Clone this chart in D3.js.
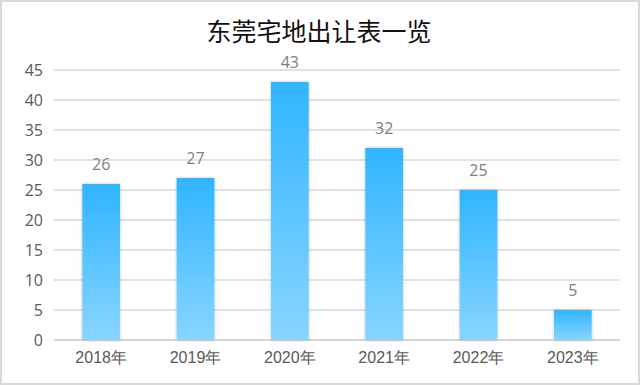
<!DOCTYPE html>
<html>
<head>
<meta charset="utf-8">
<script src="https://cdn.jsdelivr.net/npm/d3@7"></script>
<style>
  body { margin: 0; background: #fff; }
  svg { display: block; font-family: "Microsoft YaHei", "Noto Sans CJK SC", sans-serif; }
</style>
</head>
<body>
<div id="container"></div>
<script>
let w = 640;
let h = 385;

// data
let years = ["2018年", "2019年", "2020年", "2021年", "2022年", "2023年"];
let counts = [26, 27, 43, 32, 25, 5];
let yTicks = [0, 5, 10, 15, 20, 25, 30, 35, 40, 45];
let title = "东莞宅地出让表一览";

let plotLeft = 54, plotRight = 620, plotTop = 70, plotBottom = 340;

let viz = d3.select("#container")
  .append("svg")
    .attr("width", w)
    .attr("height", h);

// gradient for the bars
let defs = viz.append("defs");
let grad = defs.append("linearGradient")
  .attr("id", "barGrad")
  .attr("x1", 0).attr("y1", 0).attr("x2", 0).attr("y2", 1);
grad.append("stop").attr("offset", "0%").attr("stop-color", "#30b5ff");
grad.append("stop").attr("offset", "100%").attr("stop-color", "#88d5ff");

let shadow = defs.append("filter").attr("id", "shadow")
  .attr("x", "-20%").attr("y", "-20%").attr("width", "140%").attr("height", "140%");
shadow.append("feDropShadow")
  .attr("dx", 0).attr("dy", 0).attr("stdDeviation", 1.5)
  .attr("flood-color", "#000").attr("flood-opacity", 0.25);

// outer frame
viz.append("rect")
  .attr("x", 1).attr("y", 1)
  .attr("width", w - 2).attr("height", h - 2)
  .attr("fill", "#fff")
  .attr("stroke", "#d9d9d9")
  .attr("stroke-width", 2);

viz.append("text")
  .attr("x", w / 2 - 1)
  .attr("y", 41)
  .attr("text-anchor", "middle")
  .attr("font-size", 25)
  .attr("fill", "#111")
  .text(title);

let xScale = d3.scaleBand().domain(years).range([plotLeft, plotRight]).paddingInner(0.6).paddingOuter(0.3);
let yScale = d3.scaleLinear().domain([0, 45]).range([plotBottom, plotTop]);

// gridlines
viz.append("g")
  .selectAll("line")
  .data(yTicks)
  .enter()
  .append("line")
    .attr("x1", plotLeft).attr("x2", plotRight)
    .attr("y1", d => yScale(d)).attr("y2", d => yScale(d))
    .attr("stroke", d => d === 0 ? "#c8c8c8" : "#d9d9d9")
    .attr("stroke-width", 1.5);

// y axis labels
let yAxis = d3.axisLeft(yScale).tickValues(yTicks).tickSize(0).tickPadding(11);
let yAxisGroup = viz.append("g").attr("class", "yaxis")
  .attr("transform", "translate(" + plotLeft + ",0)")
  .call(yAxis);
yAxisGroup.select(".domain").remove();
yAxisGroup.selectAll("text")
  .attr("font-size", 16)
  .attr("fill", "#595959")
  .attr("font-family", "\"Open Sans\", \"Noto Sans\", sans-serif");

// x axis labels
let xAxis = d3.axisBottom(xScale).tickSize(0).tickPadding(12);
let xAxisGroup = viz.append("g").attr("class", "xaxis")
  .attr("transform", "translate(0," + plotBottom + ")")
  .call(xAxis);
xAxisGroup.select(".domain").remove();
xAxisGroup.selectAll("text")
  .attr("font-size", 16)
  .attr("fill", "#595959");

// bars
let rows = years.map((y, i) => ({ year: y, value: counts[i] }));
viz.append("g")
  .selectAll("rect")
  .data(rows)
  .enter()
  .append("rect")
    .attr("x", d => xScale(d.year))
    .attr("y", d => yScale(d.value))
    .attr("width", xScale.bandwidth())
    .attr("height", d => plotBottom - yScale(d.value))
    .attr("fill", "url(#barGrad)")
    .attr("filter", "url(#shadow)");

// value labels
viz.append("g")
  .selectAll("text")
  .data(rows)
  .enter()
  .append("text")
    .attr("x", d => xScale(d.year) + xScale.bandwidth() / 2)
    .attr("y", d => yScale(d.value) - 14)
    .attr("text-anchor", "middle")
    .attr("font-size", 16)
    .attr("fill", "#7f7f7f")
    .attr("font-family", "\"Open Sans\", \"Noto Sans\", sans-serif")
    .text(d => d.value);
</script>
</body>
</html>
